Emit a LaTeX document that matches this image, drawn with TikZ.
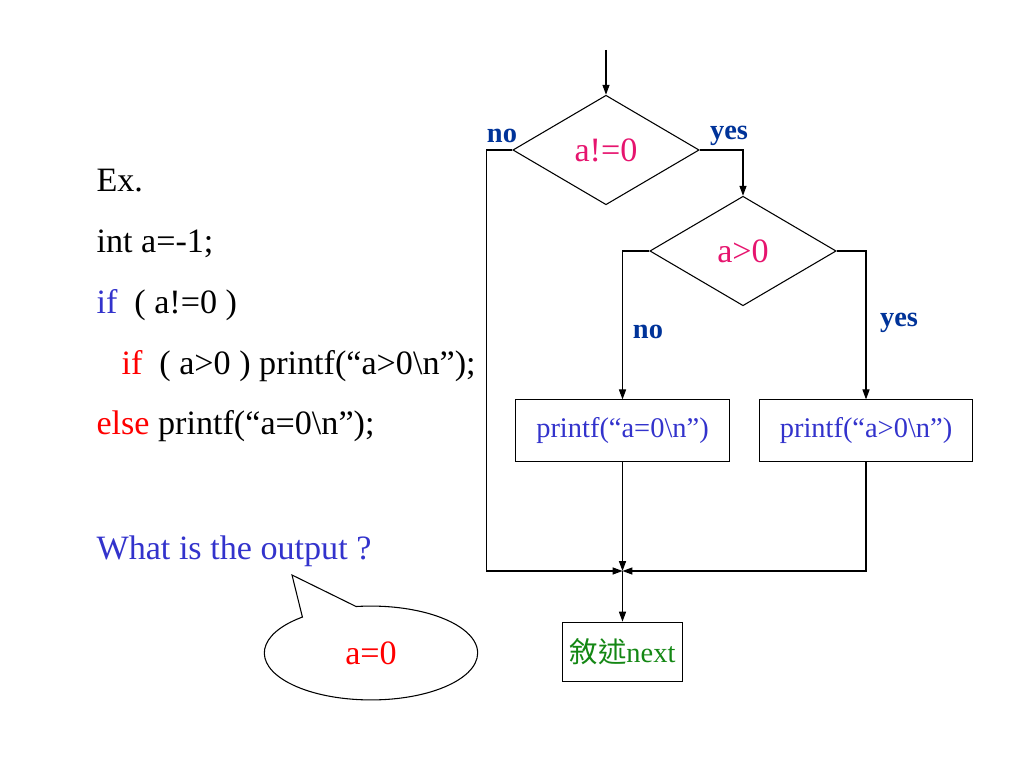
\documentclass[tikz,border=0pt]{standalone}
\usepackage{fontspec}
\setmainfont{Liberation Serif}
\newfontfamily\cjk{Noto Sans CJK TC}
\usepackage{xcolor}
\usetikzlibrary{arrows.meta,shapes.geometric,shapes.callouts}
\definecolor{codeblue}{RGB}{51,51,204}
\definecolor{condpink}{RGB}{230,20,110}
\definecolor{labelblue}{RGB}{0,51,153}
\definecolor{stmtgreen}{RGB}{20,135,20}
\begin{document}
\begin{tikzpicture}[x=0.703125pt,y=-0.703125pt,line width=0.75pt,
    arr/.style={-{Triangle[length=7pt,width=5pt]}},
    cond/.style={diamond,draw,inner sep=0pt,minimum width=131pt,minimum height=77pt,
        text=condpink,font=\fontsize{24}{28}\selectfont},
    stmt/.style={rectangle,draw,inner sep=0pt,minimum width=150pt,minimum height=43pt,
        text=codeblue,font=\fontsize{20}{24}\selectfont},
    yesno/.style={text=labelblue,font=\fontsize{20}{24}\selectfont\bfseries},
    code/.style={anchor=base west,inner sep=0pt,font=\fontsize{24}{28}\selectfont}]
\useasboundingbox (0,0) rectangle (1024,768);
% code on the left
\node[code] (ex) at (96,192) {Ex.};
\node[code] (decl) at (96,253) {int a=-1;};
\node[code] (if1) at (96,313) {\textcolor{codeblue}{if}~~( a!=0 )};
\node[code] (if2) at (121,374) {\textcolor{red}{if}~~( a>0 ) printf(“a>0\textbackslash n”);};
\node[code] (els) at (96,434) {\textcolor{red}{else} printf(“a=0\textbackslash n”);};
\node[code,text=codeblue] (ask) at (96,559) {What is the output ?};
\coordinate (tip) at (292,575);
\node[ellipse callout,draw,callout absolute pointer={(tip)},callout pointer arc=32,
    minimum width=150pt,minimum height=66pt,text=red,
    font=\fontsize{24}{28}\selectfont] (ans) at (371,653) {a=0};
% flowchart
\coordinate (start) at (606,50);
\node[cond] (d1) at (606,150) {a!=0};
\node[cond] (d2) at (743,251) {a>0};
\node[stmt] (p1) at (622.5,430.5) {printf(“a=0\textbackslash n”)};
\node[stmt] (p2) at (866,430.5) {printf(“a>0\textbackslash n”)};
\coordinate (j) at (622.5,571);
\node[stmt,minimum width=84pt,minimum height=42pt,text=stmtgreen] (nx) at (622.5,652) {{\cjk 敘述}next};
\draw[arr] (start) -- (d1.north);
\draw[arr] (d1.west) -- ++(-26,0) |- (j);
\draw[arr] (d1.east) -| (d2.north);
\draw[arr] (d2.west) -| (p1.north);
\draw[arr] (d2.east) -| (p2.north);
\draw[arr] (p1.south) -- (j);
\draw[arr] (p2.south) |- (j);
\draw[arr] (j) -- (nx.north);
\node[yesno] (no1) at (502,136) {no};
\node[yesno] (yes1) at (729,136) {yes};
\node[yesno] (no2) at (648,332) {no};
\node[yesno] (yes2) at (899,323) {yes};
\end{tikzpicture}
\end{document}
